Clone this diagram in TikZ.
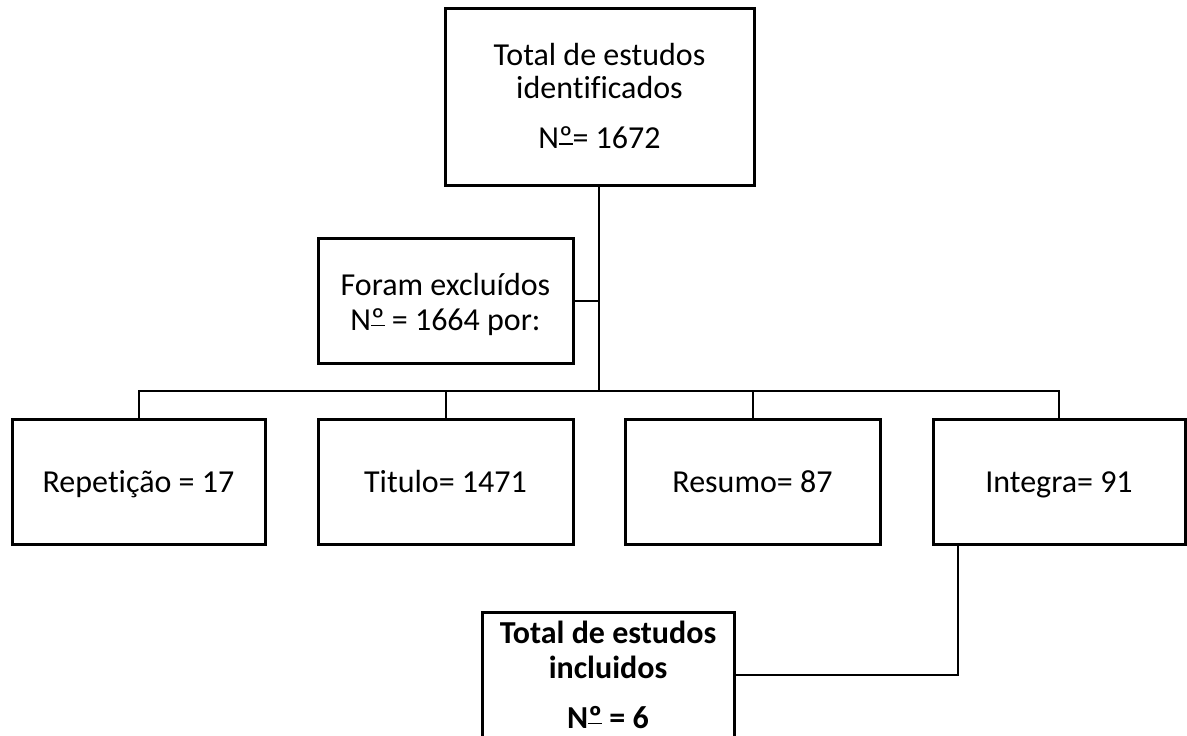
\documentclass[tikz,border=0pt]{standalone}
\usepackage{fontspec}
\setmainfont{Carlito}[Ligatures=CommonOff]
\newlength\ordw
\newcommand\ordo{\settowidth\ordw{º}\rlap{º}\rule[0.13em]{\ordw}{0.055em}}
\begin{document}
\begin{tikzpicture}[x=1pt,y=-1pt,
  box/.style={draw=black,line width=3pt,fill=white,inner sep=0pt,align=center,
    font=\fontsize{32}{33}\selectfont},
  onebox/.style={box,minimum height=125,text height=21pt,text depth=0pt},
  conn/.style={draw=black,line width=2pt}]
\useasboundingbox (0,0) rectangle (1187,736);
\clip (0,0) rectangle (1187,736);
\node[box,minimum width=309,minimum height=177] (total) at (599.5,96.5)
  {Total de estudos\\identificados\\[17pt]N\ordo= 1672};
\node[box,minimum width=255,minimum height=125] (excl) at (445.5,300.5)
  {\rule{0pt}{30pt}Foram excluídos\\[2pt]N\ordo{} = 1664 por:};
\node[onebox,minimum width=253] (rep) at (138.5,481.5) {Repetição = 17};
\node[onebox,minimum width=255] (tit) at (445.5,481.5) {Titulo= 1471};
\node[onebox,minimum width=255] (res) at (752.5,481.5) {Resumo= 87};
\node[onebox,minimum width=252] (int) at (1059,481.5) {Integra= 91};
\node[box,minimum width=252,minimum height=126,font=\fontsize{32}{35}\selectfont\bfseries] (incl) at (608,675)
  {Total de estudos\\incluidos\\[15pt]N\ordo{} = 6};
\coordinate (bus) at (599,391);
\draw[conn] (total.south -| bus) -- (bus);
\draw[conn] (excl.east) -- (excl.east -| bus);
\draw[conn] (rep.north) |- (bus);
\draw[conn] (tit.north) |- (bus);
\draw[conn] (res.north) |- (bus);
\draw[conn] (int.north) |- (bus);
\draw[conn] ([xshift=-101pt]int.south) |- (incl.east);
\end{tikzpicture}
\end{document}
